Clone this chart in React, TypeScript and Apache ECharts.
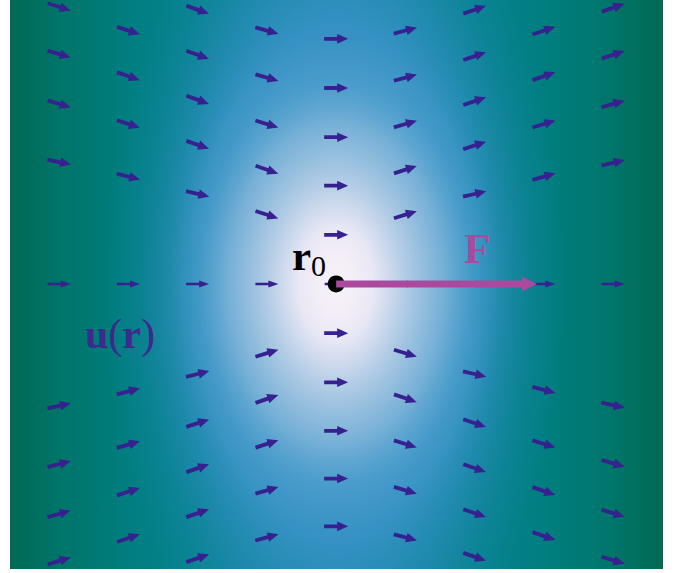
import React, { useEffect, useRef } from "react";
import * as echarts from "echarts";

// Flow field u(r) of a point force F applied at r0 (origin), sampled on columns.
const columnX = [-4, -3, -2, -1, 0, 1, 2, 3, 4];

// Per column: [y, arrow direction in degrees (counter-clockwise from +x)]
const colM4 = [[4.0, -18], [3.32, -17], [2.6, -17], [1.76, -12], [0, 0], [-1.76, 12], [-2.6, 15], [-3.32, 16], [-4.0, 17]];
const colM3 = [[3.66, -18], [3.0, -19], [2.31, -18], [1.55, -14], [0, 0], [-1.55, 15], [-2.32, 16], [-3.0, 18], [-3.67, 19]];
const colM2 = [[3.96, -20], [3.31, -20], [2.66, -20], [2.01, -19], [1.3, -14], [0, 0], [-1.3, 14], [-2.01, 18], [-2.66, 19], [-3.31, 19], [-3.96, 19]];
const colM1 = [[3.66, -15], [2.98, -16], [2.31, -17], [1.65, -19], [1.0, -18], [0, 0], [-1.0, 17], [-1.66, 19], [-2.31, 18], [-2.98, 16], [-3.66, 15]];
const col0 = [[3.54, 0], [2.83, 0], [2.12, 0], [1.42, 0], [0.71, 0], [0, 0], [-0.71, 0], [-1.42, 0], [-2.12, 0], [-2.81, 0], [-3.5, 0]];
const colP1 = [[3.66, 15], [2.98, 15], [2.31, 16], [1.65, 18], [1.0, 17], [0, 0], [-1.0, -17], [-1.65, -19], [-2.31, -17], [-2.98, -17], [-3.66, -15]];
const colP2 = [[3.96, 19], [3.29, 19], [2.64, 19], [2.0, 18], [1.3, 13], [0, 0], [-1.3, -13], [-2.01, -19], [-2.66, -19], [-3.31, -19], [-3.94, -19]];
const colP3 = [[3.66, 19], [3.0, 19], [2.31, 17], [1.55, 16], [0, 0], [-1.53, -15], [-2.31, -17], [-2.99, -19], [-3.64, -19]];
const colP4 = [[3.99, 19], [3.31, 18], [2.6, 16], [1.75, 13], [0, 0], [-1.75, -12], [-2.59, -16], [-3.31, -17], [-3.99, -17]];

const fieldColumns = [colM4, colM3, colM2, colM1, col0, colP1, colP2, colP3, colP4];

// Point of application and the applied force
const r0 = [0, 0];
const force = [2.9, 0];

const ARROW_COLOR = "#37208f";
const FORCE_COLOR = "#a94a9e";
const SERIF = '"Liberation Serif", "DejaVu Serif", serif';

function arrowPolygon(cx: number, cy: number, deg: number, L: number, w: number, h: number, hw: number) {
  const a = (deg * Math.PI) / 180;
  const fx = Math.cos(a), fy = -Math.sin(a);
  const nx = Math.sin(a), ny = Math.cos(a);
  const local = [
    [-L / 2, -w], [L / 2 - h, -w], [L / 2 - h, -hw], [L / 2, 0],
    [L / 2 - h, hw], [L / 2 - h, w], [-L / 2, w],
  ];
  return local.map(([u, v]) => [cx + u * fx + v * nx, cy + u * fy + v * ny]);
}

export default function App() {
  const ref = useRef<HTMLDivElement>(null);

  useEffect(() => {
    if (!ref.current) return;
    const chart = echarts.init(ref.current, null, { renderer: "svg" });

    const arrowData: number[][] = [];
    fieldColumns.forEach((col, i) => {
      col.forEach(([y, ang]) => arrowData.push([columnX[i], y, ang]));
    });

    // teal-green edges towards a blue centre line
    const base = new echarts.graphic.LinearGradient(0, 0, 1, 0, [
      { offset: 0, color: "#006a55" },
      { offset: 0.08, color: "#00756a" },
      { offset: 0.18, color: "#007e80" },
      { offset: 0.29, color: "#06838f" },
      { offset: 0.4, color: "#1688a3" },
      { offset: 0.5, color: "#2588b0" },
      { offset: 0.6, color: "#1688a3" },
      { offset: 0.71, color: "#06838f" },
      { offset: 0.82, color: "#007e80" },
      { offset: 0.92, color: "#00756a" },
      { offset: 1, color: "#006a55" },
    ]);

    // blue halo around r0
    const halo = new echarts.graphic.RadialGradient(0.5, 0.5, 0.5, [
      { offset: 0, color: "rgba(62,150,200,1)" },
      { offset: 0.5, color: "rgba(60,149,199,1)" },
      { offset: 0.6, color: "rgba(54,146,196,0.92)" },
      { offset: 0.72, color: "rgba(45,142,190,0.6)" },
      { offset: 0.85, color: "rgba(40,138,183,0.25)" },
      { offset: 1, color: "rgba(35,135,178,0)" },
    ]);

    // bright core around r0
    const core = new echarts.graphic.RadialGradient(0.5, 0.5, 0.5, [
      { offset: 0, color: "rgba(246,240,247,1)" },
      { offset: 0.1, color: "rgba(244,238,247,1)" },
      { offset: 0.2, color: "rgba(234,232,245,1)" },
      { offset: 0.38, color: "rgba(176,203,229,1)" },
      { offset: 0.58, color: "rgba(125,179,216,0.9)" },
      { offset: 0.75, color: "rgba(90,165,210,0.35)" },
      { offset: 0.9, color: "rgba(80,160,208,0.05)" },
      { offset: 1, color: "rgba(80,160,208,0)" },
    ]);

    chart.setOption({
      animation: false,
      grid: { left: 10, top: 0, width: 653, height: 569, containLabel: false },
      xAxis: { type: "value", min: -4.71, max: 4.72, show: false },
      yAxis: { type: "value", min: -4.116, max: 4.101, show: false },
      graphic: [
        { type: "rect", z: -10, shape: { x: 10, y: 0, width: 653, height: 569 }, style: { fill: base } },
        { type: "rect", z: -9, shape: { x: 106, y: -146, width: 460, height: 860 }, style: { fill: halo } },
        { type: "rect", z: -8, shape: { x: 151, y: 8, width: 370, height: 552 }, style: { fill: core } },
        {
          type: "text", z: 50, x: 85, y: 334,
          style: {
            text: "{b|u}{p|(}{b|r}{p|)}",
            verticalAlign: "middle",
            rich: {
              b: { font: `bold 42px ${SERIF}`, fill: "#3c2a8e" },
              p: { font: `42px ${SERIF}`, fill: "#3c2a8e" },
            },
          },
        },
        { type: "text", z: 50, x: 292, y: 255, style: { text: "r", font: `bold 43px ${SERIF}`, fill: "#000", verticalAlign: "middle" } },
        { type: "text", z: 50, x: 311, y: 265, style: { text: "0", font: `30px ${SERIF}`, fill: "#000", verticalAlign: "middle" } },
        { type: "text", z: 50, x: 464, y: 248, style: { text: "F", font: `bold 43px ${SERIF}`, fill: FORCE_COLOR, verticalAlign: "middle" } },
      ],
      series: [
        {
          type: "custom",
          z: 3,
          data: arrowData,
          renderItem: (params: any, api: any) => {
            const x = api.value(0), y = api.value(1), ang = api.value(2);
            const [px, py] = api.coord([x, y]);
            const thin = y === 0;
            const pts = thin
              ? arrowPolygon(px, py, ang, 23, 1.25, 10, 3.4)
              : arrowPolygon(px, py, ang, 24, 1.9, 11, 4.8);
            return { type: "polygon", shape: { points: pts }, style: { fill: ARROW_COLOR } };
          },
        },
        {
          type: "scatter",
          z: 5,
          data: [r0],
          symbol: "circle",
          symbolSize: 17,
          itemStyle: { color: "#000", opacity: 1 },
          silent: true,
        },
        {
          type: "custom",
          z: 6,
          data: [[r0[0], r0[1], force[0], force[1]]],
          renderItem: (params: any, api: any) => {
            const [x0, y0] = api.coord([api.value(0), api.value(1)]);
            const [x1, y1] = api.coord([api.value(0) + api.value(2), api.value(1) + api.value(3)]);
            const L = Math.hypot(x1 - x0, y1 - y0);
            const ang = (Math.atan2(-(y1 - y0), x1 - x0) * 180) / Math.PI;
            const pts = arrowPolygon((x0 + x1) / 2, (y0 + y1) / 2, ang, L, 3.6, 15, 7.5);
            return { type: "polygon", shape: { points: pts }, style: { fill: FORCE_COLOR } };
          },
        },
      ],
    });

    return () => chart.dispose();
  }, []);

  return (
    <div
      ref={ref}
      style={{ position: "absolute", left: 0, top: 0, width: 674, height: 569 }}
    />
  );
}
